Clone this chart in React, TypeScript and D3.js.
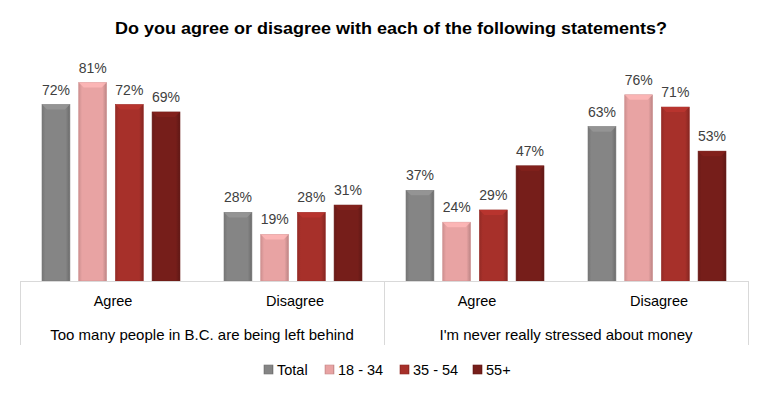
import React, { useEffect, useRef } from 'react';
import * as d3 from 'd3';

const title = 'Do you agree or disagree with each of the following statements?';
const statements = ['Too many people in B.C. are being left behind', "I'm never really stressed about money"];
const answers = ['Agree', 'Disagree'];
const seriesNames = ['Total', '18 - 34', '35 - 54', '55+'];
const seriesColors = ['#858585', '#E8A3A3', '#A7302A', '#761E1A'];

// values per series, in order: stmt1 Agree, stmt1 Disagree, stmt2 Agree, stmt2 Disagree
const totalValues = [72, 28, 37, 63];
const age1834Values = [81, 19, 24, 76];
const age3554Values = [72, 28, 29, 71];
const age55Values = [69, 31, 47, 53];
const allValues = [totalValues, age1834Values, age3554Values, age55Values];

const W = 768;
const H = 397;

const App: React.FC = () => {
  const svgRef = useRef<SVGSVGElement>(null);

  useEffect(() => {
    if (!svgRef.current) return;
    const svg = d3.select(svgRef.current);
    svg.selectAll('*').remove();

    const font = "'Liberation Sans', Arial, sans-serif";
    const left = 20;
    const right = 748;
    const baseY = 281;

    const groupKeys = statements.flatMap((s, i) => answers.map(a => `${i}|${a}`));

    const x0 = d3.scaleBand<string>().domain(groupKeys).range([left, right]).paddingInner(0).paddingOuter(0);
    const x1 = d3.scaleBand<string>()
      .domain(seriesNames)
      .range([0, x0.bandwidth()])
      .paddingInner(0.24)
      .paddingOuter(0.6);
    const y = d3.scaleLinear().domain([0, 100]).range([baseY, 36]);

    const defs = svg.append('defs');
    seriesColors.forEach((c, i) => {
      const base = d3.color(c)!;
      const grad = defs.append('linearGradient')
        .attr('id', `bar-grad-${i}`)
        .attr('x1', '0').attr('x2', '1').attr('y1', '0').attr('y2', '0');
      grad.append('stop').attr('offset', '0').attr('stop-color', base.darker(0.35).formatHex());
      grad.append('stop').attr('offset', '0.12').attr('stop-color', base.formatHex());
      grad.append('stop').attr('offset', '0.85').attr('stop-color', base.formatHex());
      grad.append('stop').attr('offset', '1').attr('stop-color', base.darker(0.6).formatHex());
    });

    // title
    svg.append('text')
      .attr('x', 391)
      .attr('y', 34)
      .attr('text-anchor', 'middle')
      .attr('textLength', 552)
      .attr('lengthAdjust', 'spacingAndGlyphs')
      .style('font-family', font)
      .style('font-size', '17px')
      .style('font-weight', 'bold')
      .attr('fill', '#000')
      .text(title);

    // bars
    const g = svg.append('g');
    groupKeys.forEach((key, gi) => {
      const gx = x0(key)!;
      seriesNames.forEach((name, si) => {
        const v = allValues[si][gi];
        const bx = gx + x1(name)!;
        const bw = x1.bandwidth();
        const by = y(v);
        const bh = baseY - by;
        g.append('rect')
          .attr('x', bx)
          .attr('y', by)
          .attr('width', bw)
          .attr('height', bh)
          .attr('fill', `url(#bar-grad-${si})`)
          .attr('stroke', d3.color(seriesColors[si])!.darker(0.3).formatHex())
          .attr('stroke-width', 0.6);
        // top bevel highlight
        const bev = 5;
        const light = d3.color(seriesColors[si])!.brighter(0.35).formatHex();
        g.append('path')
          .attr('d', `M${bx},${by}L${bx + bw},${by}L${bx + bw - bev},${by + bev}L${bx + bev},${by + bev}Z`)
          .attr('fill', light)
          .attr('opacity', 0.8);
        g.append('text')
          .attr('x', bx + bw / 2)
          .attr('y', by - 10)
          .attr('text-anchor', 'middle')
          .style('font-family', font)
          .style('font-size', '14px')
          .attr('fill', '#404040')
          .text(`${v}%`);
      });
      // answer label
      svg.append('text')
        .attr('x', gx + x0.bandwidth() / 2 + 2)
        .attr('y', 306)
        .attr('text-anchor', 'middle')
        .style('font-family', font)
        .style('font-size', '14.5px')
        .attr('fill', '#000')
        .text(key.split('|')[1]);
    });

    // axis lines
    const axisColor = '#D9D9D9';
    svg.append('line')
      .attr('x1', left).attr('x2', right)
      .attr('y1', baseY + 0.5).attr('y2', baseY + 0.5)
      .attr('stroke', axisColor).attr('stroke-width', 1);
    const stmtScale = d3.scaleBand<string>().domain(statements).range([left, right]);
    const sepXs = [left, ...statements.map(s => stmtScale(s)! + stmtScale.bandwidth())];
    sepXs.forEach(sx => {
      svg.append('line')
        .attr('x1', sx + 0.5).attr('x2', sx + 0.5)
        .attr('y1', baseY).attr('y2', 345)
        .attr('stroke', axisColor).attr('stroke-width', 1);
    });
    statements.forEach(s => {
      svg.append('text')
        .attr('x', stmtScale(s)! + stmtScale.bandwidth() / 2)
        .attr('y', 340)
        .attr('text-anchor', 'middle')
        .style('font-family', font)
        .style('font-size', '15px')
        .attr('fill', '#000')
        .text(s);
    });

    // legend
    const legendX = [264, 325, 400, 473];
    const legend = svg.append('g');
    seriesNames.forEach((name, i) => {
      const lx = legendX[i];
      legend.append('rect')
        .attr('x', lx)
        .attr('y', 365)
        .attr('width', 9)
        .attr('height', 9)
        .attr('fill', `url(#bar-grad-${i})`)
        .attr('stroke', d3.color(seriesColors[i])!.darker(0.4).formatHex())
        .attr('stroke-width', 0.6);
      legend.append('text')
        .attr('x', lx + 13)
        .attr('y', 375)
        .style('font-family', font)
        .style('font-size', '14.5px')
        .attr('fill', '#000')
        .text(name);
    });
  }, []);

  return (
    <svg
      ref={svgRef}
      width={W}
      height={H}
      style={{ position: 'absolute', left: 0, top: 0, background: '#fff' }}
    />
  );
};

export default App;
